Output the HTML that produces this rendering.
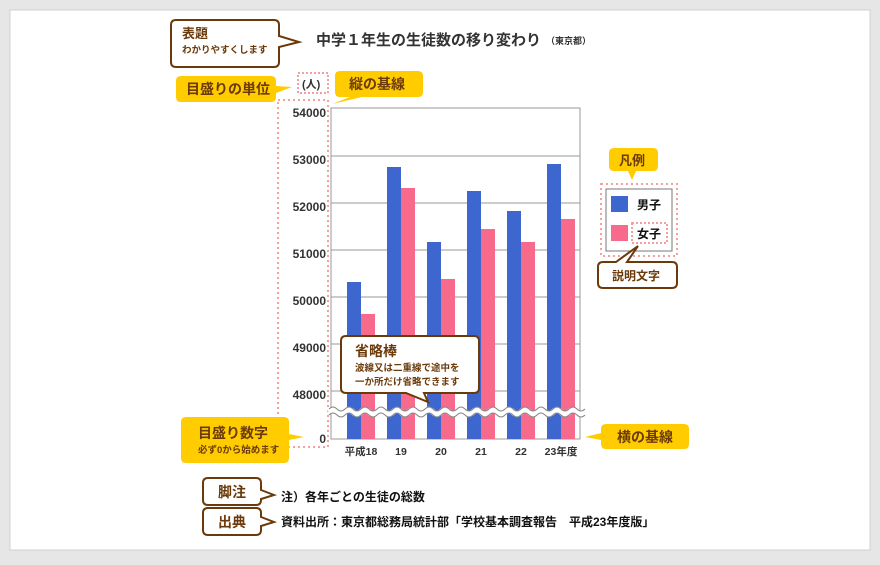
<!DOCTYPE html>
<html><head><meta charset="utf-8"><style>
body{margin:0;width:880px;height:560px;background:#e6e6e6;font-family:"Liberation Sans","Noto Sans CJK JP",sans-serif;overflow:hidden}
svg text{font-family:"Liberation Sans","Noto Sans CJK JP",sans-serif;font-weight:bold}
</style></head><body>
<svg width="880" height="560" xmlns="http://www.w3.org/2000/svg">
<rect x="10" y="10" width="860" height="540" fill="#fff" stroke="#d0d0d0"/>
<text x="316" y="45" font-size="15" fill="#333">中学１年生の生徒数の移り変わり</text>
<text x="546" y="44" font-size="9" fill="#333">（東京都）</text>
<path d="M176,20 H274 Q279,20 279,25 V36 L299,42 L279,47 V62 Q279,67 274,67 H176 Q171,67 171,62 V25 Q171,20 176,20 Z" fill="#fff" stroke="#6b3a0a" stroke-width="2"/>
<text x="182" y="38" font-size="13" fill="#6b3a0a">表題</text>
<text x="182" y="53" font-size="9.5" fill="#6b3a0a">わかりやすくします</text>
<rect x="298" y="73" width="30" height="20" fill="none" stroke="#f4a0a0" stroke-width="2" stroke-dasharray="2,2"/>
<text x="302" y="88" font-size="11" fill="#333">(人)</text>
<path d="M181,76 H271 Q276,76 276,81 V86 L292,87 L276,93 V97 Q276,102 271,102 H181 Q176,102 176,97 V81 Q176,76 181,76 Z" fill="#ffcc00"/>
<text x="186" y="94" font-size="14" fill="#6b3a0a">目盛りの単位</text>
<path d="M340,71 H418 Q423,71 423,76 V92 Q423,97 418,97 H362 L332,104 L350,97 H340 Q335,97 335,92 V76 Q335,71 340,71 Z" fill="#ffcc00"/>
<text x="349" y="89" font-size="14" fill="#6b3a0a">縦の基線</text>
<rect x="278" y="100" width="50" height="347" fill="none" stroke="#f4a0a0" stroke-width="2" stroke-dasharray="2,3"/>
<rect x="331" y="108" width="249" height="331" fill="#fff" stroke="#999"/>
<g stroke="#999">
<line x1="331" x2="580" y1="156" y2="156"/><line x1="331" x2="580" y1="203" y2="203"/>
<line x1="331" x2="580" y1="250" y2="250"/><line x1="331" x2="580" y1="297" y2="297"/>
<line x1="331" x2="580" y1="344" y2="344"/><line x1="331" x2="580" y1="391" y2="391"/>
</g>
<g fill="#3d67cf">
<rect x="347" y="282" width="14" height="157"/><rect x="387" y="167" width="14" height="272"/>
<rect x="427" y="242" width="14" height="197"/><rect x="467" y="191" width="14" height="248"/>
<rect x="507" y="211" width="14" height="228"/><rect x="547" y="164" width="14" height="275"/>
</g>
<g fill="#f76a8c">
<rect x="361" y="314" width="14" height="125"/><rect x="401" y="188" width="14" height="251"/>
<rect x="441" y="279" width="14" height="160"/><rect x="481" y="229" width="14" height="210"/>
<rect x="521" y="242" width="14" height="197"/><rect x="561" y="219" width="14" height="220"/>
</g>
<path d="M329,412 q4,-4 8,0 t8,0 t8,0 t8,0 t8,0 t8,0 t8,0 t8,0 t8,0 t8,0 t8,0 t8,0 t8,0 t8,0 t8,0 t8,0 t8,0 t8,0 t8,0 t8,0 t8,0 t8,0 t8,0 t8,0 t8,0 t8,0 t8,0 t8,0 t8,0 t8,0 t8,0 t8,0" fill="none" stroke="#fff" stroke-width="6"/>
<path d="M329,409 q4,-4 8,0 t8,0 t8,0 t8,0 t8,0 t8,0 t8,0 t8,0 t8,0 t8,0 t8,0 t8,0 t8,0 t8,0 t8,0 t8,0 t8,0 t8,0 t8,0 t8,0 t8,0 t8,0 t8,0 t8,0 t8,0 t8,0 t8,0 t8,0 t8,0 t8,0 t8,0 t8,0" fill="none" stroke="#888" stroke-width="1"/>
<path d="M329,415 q4,-4 8,0 t8,0 t8,0 t8,0 t8,0 t8,0 t8,0 t8,0 t8,0 t8,0 t8,0 t8,0 t8,0 t8,0 t8,0 t8,0 t8,0 t8,0 t8,0 t8,0 t8,0 t8,0 t8,0 t8,0 t8,0 t8,0 t8,0 t8,0 t8,0 t8,0 t8,0 t8,0" fill="none" stroke="#888" stroke-width="1"/>
<g font-size="12" fill="#333" text-anchor="end">
<text x="326" y="117">54000</text><text x="326" y="164">53000</text><text x="326" y="211">52000</text>
<text x="326" y="258">51000</text><text x="326" y="305">50000</text><text x="326" y="352">49000</text>
<text x="326" y="399">48000</text><text x="326" y="443">0</text>
</g>
<g font-size="10.5" fill="#333" text-anchor="middle">
<text x="361" y="455">平成18</text><text x="401" y="455">19</text><text x="441" y="455">20</text>
<text x="481" y="455">21</text><text x="521" y="455">22</text><text x="561" y="455">23年度</text>
</g>
<path d="M346,336 H474 Q479,336 479,341 V388 Q479,393 474,393 H424 L428,402 L406,393 H346 Q341,393 341,388 V341 Q341,336 346,336 Z" fill="#fff" stroke="#6b3a0a" stroke-width="2"/>
<text x="355" y="356" font-size="14" fill="#6b3a0a">省略棒</text>
<text x="355" y="371" font-size="9.5" fill="#6b3a0a">波線又は二重線で途中を</text>
<text x="355" y="385" font-size="9.5" fill="#6b3a0a">一か所だけ省略できます</text>
<path d="M186,417 H284 Q289,417 289,422 V434 L304,437 L289,440 V458 Q289,463 284,463 H186 Q181,463 181,458 V422 Q181,417 186,417 Z" fill="#ffcc00"/>
<text x="198" y="438" font-size="14" fill="#6b3a0a">目盛り数字</text>
<text x="198" y="453" font-size="9.5" fill="#6b3a0a">必ず0から始めます</text>
<path d="M606,424 H684 Q689,424 689,429 V444 Q689,449 684,449 H606 Q601,449 601,444 V440 L585,437 L601,433 V429 Q601,424 606,424 Z" fill="#ffcc00"/>
<text x="617" y="442" font-size="14" fill="#6b3a0a">横の基線</text>
<path d="M614,148 H653 Q658,148 658,153 V166 Q658,171 653,171 H636 L632,180 L628,171 H614 Q609,171 609,166 V153 Q609,148 614,148 Z" fill="#ffcc00"/>
<text x="619" y="165" font-size="13" fill="#6b3a0a">凡例</text>
<rect x="601" y="184" width="76" height="72" fill="none" stroke="#f4a0a0" stroke-width="2" stroke-dasharray="2,3"/>
<rect x="606" y="189" width="66" height="62" fill="#fff" stroke="#777"/>
<rect x="611" y="196" width="17" height="16" fill="#3d67cf"/>
<rect x="611" y="225" width="17" height="16" fill="#f76a8c"/>
<text x="637" y="209" font-size="12" fill="#111">男子</text>
<rect x="632" y="223" width="35" height="20" fill="none" stroke="#f4a0a0" stroke-width="2" stroke-dasharray="2,2"/>
<text x="637" y="238" font-size="12" fill="#111">女子</text>
<path d="M603,262 H616 L638,246 L627,262 H672 Q677,262 677,267 V283 Q677,288 672,288 H603 Q598,288 598,283 V267 Q598,262 603,262 Z" fill="#fff" stroke="#6b3a0a" stroke-width="2"/>
<text x="612" y="280" font-size="12" fill="#6b3a0a">説明文字</text>
<path d="M208,478 H256 Q261,478 261,483 V490 L274,495 L261,499 V500 Q261,505 256,505 H208 Q203,505 203,500 V483 Q203,478 208,478 Z" fill="#fff" stroke="#6b3a0a" stroke-width="2"/>
<text x="218" y="497" font-size="14" fill="#6b3a0a">脚注</text>
<path d="M208,508 H256 Q261,508 261,513 V517 L274,522 L261,526 V530 Q261,535 256,535 H208 Q203,535 203,530 V513 Q203,508 208,508 Z" fill="#fff" stroke="#6b3a0a" stroke-width="2"/>
<text x="218" y="527" font-size="14" fill="#6b3a0a">出典</text>
<text x="281" y="501" font-size="12" fill="#111">注）各年ごとの生徒の総数</text>
<text x="281" y="526" font-size="12" fill="#111">資料出所：東京都総務局統計部「学校基本調査報告　平成23年度版」</text>
</svg>
</body></html>
